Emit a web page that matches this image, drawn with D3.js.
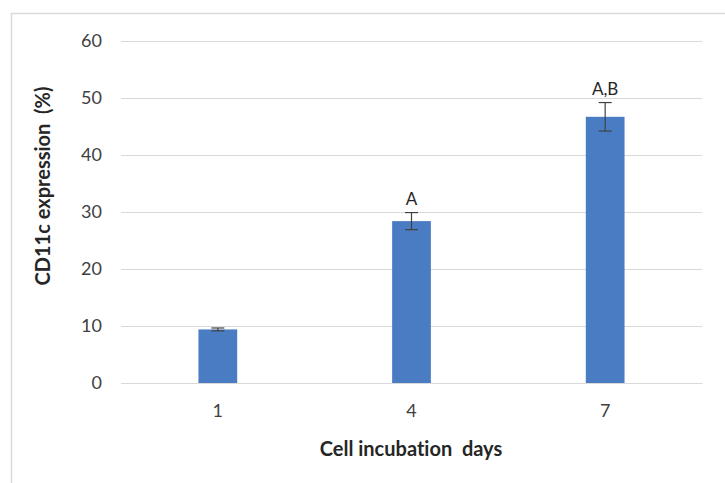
<!DOCTYPE html>
<html>
<head>
<meta charset="utf-8">
<script src="https://cdn.jsdelivr.net/npm/d3@7"></script>
<style>
body{margin:0;background:#fff;}
svg{display:block;font-family:Lato,"Open Sans",sans-serif;font-variant-ligatures:none;}
</style>
</head>
<body>
<main></main>
<script>
var days = ["1", "4", "7"];
var expression = [9.4, 28.4, 46.7];
var errors = [0.25, 1.5, 2.5];
var letters = ["", "A", "A,B"];
var yTicks = [0, 10, 20, 30, 40, 50, 60];

drawChart();

function drawChart(){
    var width = 725, height = 483;
    var svg = d3.select("main")
    .append("svg")
    .attr("width", width)
    .attr("height", height);

    // outer chart frame
    svg.append("rect")
    .attr("x", 11.5)
    .attr("y", 13.5)
    .attr("width", width + 10)
    .attr("height", height + 10)
    .attr("fill", "#fff")
    .attr("stroke", "#d9d9d9")
    .attr("stroke-width", 1.5);

    const xScale = d3.scaleBand()
    .domain(days)
    .range([121, 702])
    .paddingInner(0.8)
    .paddingOuter(0.4);

    const yScale = d3.scaleLinear()
    .domain([0, 60])
    .range([383, 41]);

    // gridlines
    svg.append("g")
    .selectAll("line")
    .data(yTicks)
    .enter()
    .append("line")
    .attr("x1", 121)
    .attr("x2", 702)
    .attr("y1", d => Math.round(yScale(d)) + 0.5)
    .attr("y2", d => Math.round(yScale(d)) + 0.5)
    .attr("stroke", "#d9d9d9")
    .attr("stroke-width", 1);

    var y_axis = d3.axisLeft(yScale).tickValues(yTicks).tickSize(0).tickPadding(19);
    svg.append("g")
    .attr("transform", "translate(121,0)")
    .call(y_axis)
    .call(g => g.select(".domain").remove())
    .selectAll("text")
    .attr("font-size", 18)
    .attr("font-family", "Lato, 'Open Sans', sans-serif")
    .attr("fill", "#404040");

    var x_axis = d3.axisBottom(xScale).tickSize(0).tickPadding(21);
    svg.append("g")
    .attr("transform", "translate(0,383)")
    .call(x_axis)
    .call(g => g.select(".domain").attr("stroke", "#d9d9d9"))
    .selectAll("text")
    .attr("font-size", 18)
    .attr("font-family", "Lato, 'Open Sans', sans-serif")
    .attr("fill", "#404040");

    svg.selectAll(".bar")
    .data(expression)
    .enter()
    .append("rect")
    .attr("class", "bar")
    .attr("x", (d, i) => xScale(days[i]))
    .attr("y", d => yScale(d))
    .attr("width", xScale.bandwidth())
    .attr("height", d => yScale(0) - yScale(d))
    .style("fill", "#4a7cc4");

    // error bars
    var eb = svg.append("g").attr("stroke", "#404040").attr("stroke-width", 1.2);
    expression.forEach((v, i) => {
        var cx = xScale(days[i]) + xScale.bandwidth() / 2;
        eb.append("line")
        .attr("x1", cx).attr("x2", cx)
        .attr("y1", yScale(v - errors[i])).attr("y2", yScale(v + errors[i]));
        [v - errors[i], v + errors[i]].forEach(e => {
            eb.append("line")
            .attr("x1", cx - 6.5).attr("x2", cx + 6.5)
            .attr("y1", yScale(e)).attr("y2", yScale(e));
        });
    });

    svg.selectAll(".letter")
    .data(letters)
    .enter()
    .append("text")
    .attr("class", "letter")
    .attr("x", (d, i) => xScale(days[i]) + xScale.bandwidth() / 2)
    .attr("y", (d, i) => yScale(expression[i] + errors[i]) - 8)
    .attr("text-anchor", "middle")
    .attr("font-size", 17)
    .attr("fill", "#262626")
    .text(d => d);

    svg.append("text")
    .attr("x", 411)
    .attr("y", 456)
    .attr("text-anchor", "middle")
    .attr("font-size", 20)
    .attr("font-weight", "bold")
    .attr("fill", "#262626")
    .style("white-space", "pre")
    .text("Cell incubation  days");

    svg.append("text")
    .attr("transform", "translate(50,186) rotate(-90)")
    .attr("text-anchor", "middle")
    .attr("font-size", 20)
    .attr("font-weight", "bold")
    .attr("fill", "#262626")
    .style("white-space", "pre")
    .text("CD11c expression  (%)");
}
</script>
</body>
</html>
